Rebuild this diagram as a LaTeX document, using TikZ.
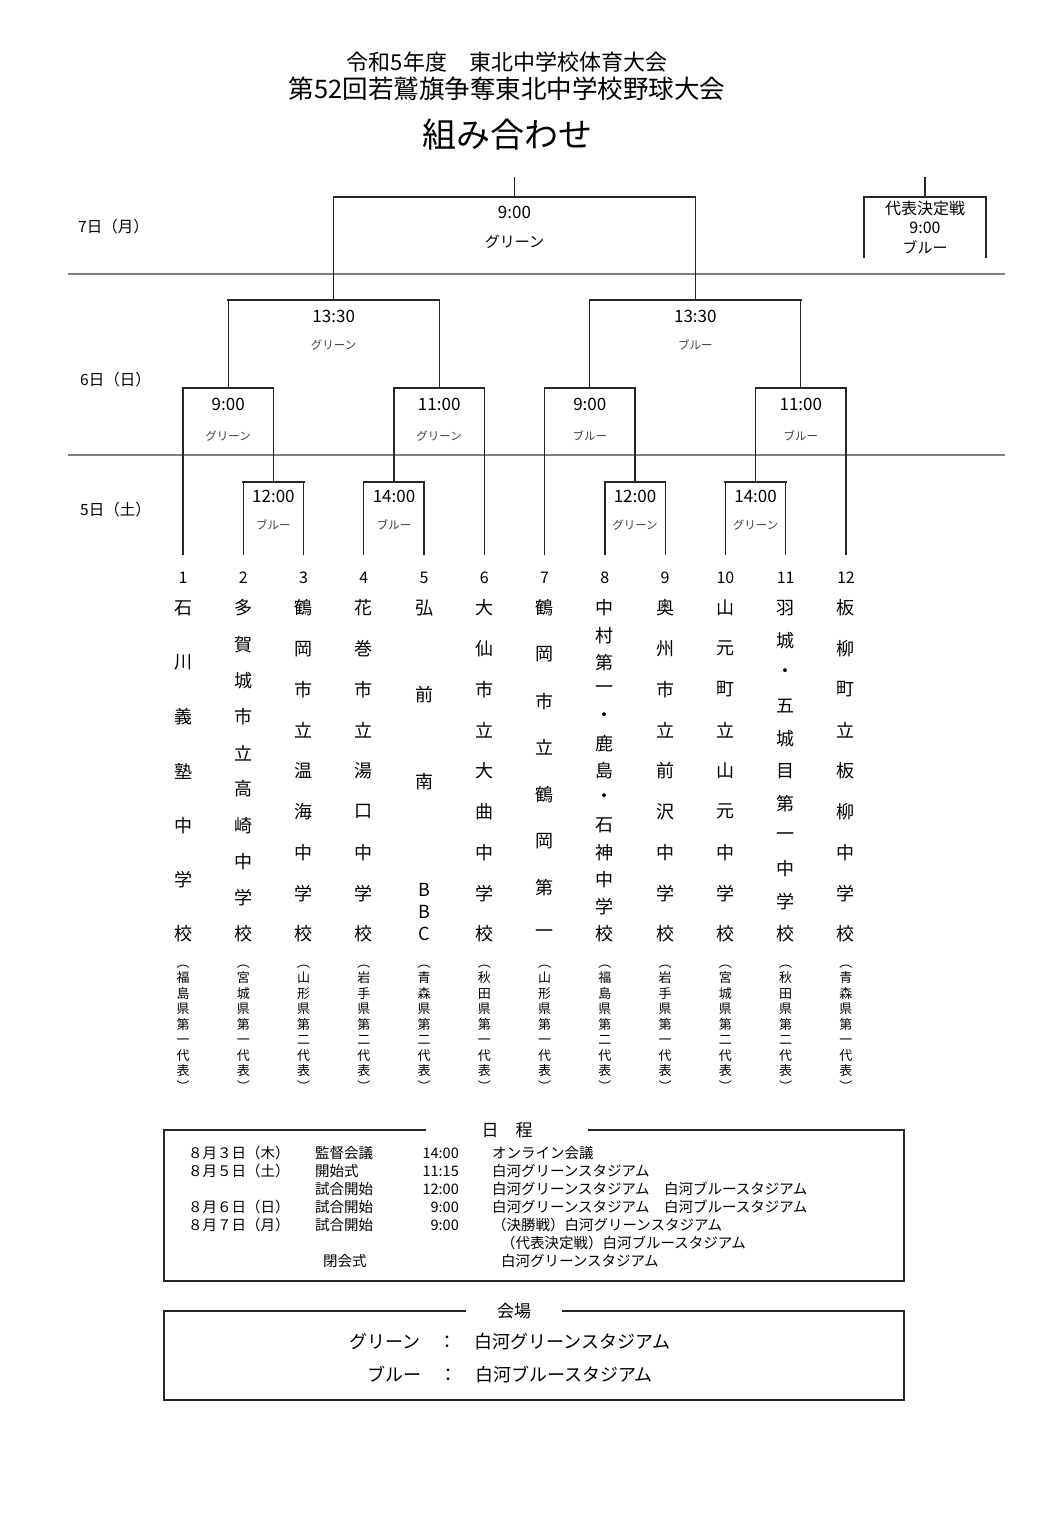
\documentclass[tikz,border=0pt]{standalone}
\usepackage{fontspec}
\setmainfont{Noto Sans CJK JP}
\usetikzlibrary{calc,positioning}
\tikzset{
  leg/.style={line width=1.3pt, draw=black!85},
  bar/.style={line width=2pt, draw=black!85, line cap=rect},
  dayline/.style={line width=1.4pt, draw=black!50},
  framebox/.style={line width=1.8pt, draw=black!85},
  timelbl/.style={inner sep=0pt, font=\fontsize{17}{17}\selectfont},
  venuelbl/.style={inner sep=0pt, text=black!75, font=\fontsize{11.5}{11.5}\selectfont},
  daylbl/.style={inner sep=0pt, anchor=west, font=\fontsize{15.5}{15.5}\selectfont},
  teamnum/.style={inner sep=0pt, font=\fontsize{16}{16}\selectfont},
  teamchar/.style={inner sep=0pt, font=\fontsize{18}{18}\selectfont},
  pref/.style={inner sep=0pt, align=center, font=\fontsize{13}{15.5}\selectfont},
  sched/.style={inner sep=0pt, anchor=west, font=\fontsize{14.5}{14.5}\selectfont},
  boxtitle/.style={inner ysep=0pt, font=\fontsize{17}{17}\selectfont},
  venueline/.style={inner sep=0pt, font=\fontsize{18}{18}\selectfont}
}
% legs from two children up to the top bar of a match
\newcommand{\bracket}[3]{%
  \draw[leg] (#1) -- (#1 |- #3) (#2) -- (#2 |- #3);
  \draw[bar] (#1 |- #3) -- (#2 |- #3);
}
% school name set down a column, spread evenly
\newcommand{\teamcol}[3]{%
  \foreach \c [count=\k from 0] in {#3}
    \node[teamchar] (n#1-\k) at ($(t#1)+(0,{53+\k*326/(#2-1)})$) {\c};
}

\begin{document}
\begin{tikzpicture}[x=1pt, y=-1pt]
\useasboundingbox (0,0) rectangle (1055,1530);

% heading
\node[font=\fontsize{22}{22}\selectfont] (head1) at (507,62) {令和5年度　東北中学校体育大会};
\node[font=\fontsize{25.5}{25.5}\selectfont] (head2) at (507,89) {第52回若鷲旗争奪東北中学校野球大会};
\node[font=\fontsize{34}{34}\selectfont] (head3) at (507,135) {組み合わせ};

% days
\coordinate (dayL1) at (68,274);  \coordinate (dayR1) at (1005,274);
\coordinate (dayL2) at (68,455);  \coordinate (dayR2) at (1005,455);
\draw[dayline] (dayL1) -- (dayR1);
\draw[dayline] (dayL2) -- (dayR2);
\node[daylbl] (d7) at (78,227) {7日（月）};
\node[daylbl] (d6) at (80,380) {6日（日）};
\node[daylbl] (d5) at (80,510) {5日（土）};

% teams
\foreach \i in {1,...,12}{
  \coordinate (t\i) at ({183+(\i-1)*60.27},555);
  \node[teamnum] (num\i) at ($(t\i)+(0,23)$) {\i};
}

% match tops
\coordinate (m23) at (273.4,482);
\coordinate (m45) at (394.0,482);
\coordinate (m89) at (635.0,482);
\coordinate (m1011) at (755.6,482);
\coordinate (q1) at (228.2,388);
\coordinate (q2) at (439.2,388);
\coordinate (q3) at (589.8,388);
\coordinate (q4) at (800.8,388);
\coordinate (s1) at (333.7,300);
\coordinate (s2) at (695.3,300);
\coordinate (fin) at (514.5,197);
\coordinate (finup) at (514.5,177);
\coordinate (repL) at (864,258);
\coordinate (repR) at (986,258);
\coordinate (rep) at (925,197);
\coordinate (repup) at (925,177);

\bracket{t2}{t3}{m23}
\bracket{t4}{t5}{m45}
\bracket{t8}{t9}{m89}
\bracket{t10}{t11}{m1011}
\bracket{t1}{m23}{q1}
\bracket{m45}{t6}{q2}
\bracket{t7}{m89}{q3}
\bracket{m1011}{t12}{q4}
\bracket{q1}{q2}{s1}
\bracket{q3}{q4}{s2}
\bracket{s1}{s2}{fin}
\draw[leg] (fin) -- (finup);
\bracket{repL}{repR}{rep}
\draw[leg] (rep) -- (repup);

% times and grounds
\foreach \m/\tm/\gr in {m23/12:00/ブルー, m45/14:00/ブルー, m89/12:00/グリーン, m1011/14:00/グリーン}{
  \node[timelbl] (\m time) at ($(\m)+(0,14)$) {\tm};
  \node[venuelbl] (\m gr) at ($(\m)+(0,43)$) {\gr};
}
\foreach \m/\tm/\gr in {q1/9:00/グリーン, q2/11:00/グリーン, q3/9:00/ブルー, q4/11:00/ブルー}{
  \node[timelbl] (\m time) at ($(\m)+(0,16)$) {\tm};
  \node[venuelbl] (\m gr) at ($(\m)+(0,48)$) {\gr};
}
\foreach \m/\gr in {s1/グリーン, s2/ブルー}{
  \node[timelbl] (\m time) at ($(\m)+(0,16)$) {13:30};
  \node[venuelbl] (\m gr) at ($(\m)+(0,45)$) {\gr};
}
\node[timelbl] (fintime) at ($(fin)+(0,15)$) {9:00};
\node[timelbl, font=\fontsize{15}{15}\selectfont] (fingr) at ($(fin)+(0,45)$) {グリーン};
\node[timelbl, font=\fontsize{16}{16}\selectfont] (repname) at ($(rep)+(0,11)$) {代表決定戦};
\node[timelbl, font=\fontsize{16}{16}\selectfont] (reptime) at ($(rep)+(0,31)$) {9:00};
\node[timelbl, font=\fontsize{15}{15}\selectfont] (repgr) at ($(rep)+(0,50)$) {ブルー};

% schools
\teamcol{1}{7}{石,川,義,塾,中,学,校}
\teamcol{2}{10}{多,賀,城,市,立,高,崎,中,学,校}
\teamcol{3}{9}{鶴,岡,市,立,温,海,中,学,校}
\teamcol{4}{9}{花,巻,市,立,湯,口,中,学,校}
\node[teamchar] (n5-0) at ($(t5)+(0,53)$) {弘};
\node[teamchar] (n5-1) at ($(t5)+(0,140)$) {前};
\node[teamchar] (n5-2) at ($(t5)+(0,227)$) {南};
\node[teamchar] (n5-3) at ($(t5)+(0,335)$) {B};
\node[teamchar] (n5-4) at ($(t5)+(0,357)$) {B};
\node[teamchar] (n5-5) at ($(t5)+(0,379)$) {C};
\teamcol{6}{9}{大,仙,市,立,大,曲,中,学,校}
\teamcol{7}{8}{鶴,岡,市,立,鶴,岡,第,一}
\teamcol{8}{13}{中,村,第,一,・,鹿,島,・,石,神,中,学,校}
\teamcol{9}{9}{奥,州,市,立,前,沢,中,学,校}
\teamcol{10}{9}{山,元,町,立,山,元,中,学,校}
\teamcol{11}{11}{羽,城,・,五,城,目,第,一,中,学,校}
\teamcol{12}{9}{板,柳,町,立,板,柳,中,学,校}

% prefectures
\foreach \i/\pa/\pb/\rk in {1/福/島/一, 2/宮/城/一, 3/山/形/二, 4/岩/手/二,
    5/青/森/二, 6/秋/田/一, 7/山/形/一, 8/福/島/二, 9/岩/手/一,
    10/宮/城/二, 11/秋/田/二, 12/青/森/一}
  \node[pref] (pref\i) at ($(t\i)+(0,473)$) {︵\\\pa\\\pb\\県\\第\\\rk\\代\\表\\︶};

% schedule
\node[boxtitle, inner xsep=55pt] (schedttl) at (507,1130) {日　程};
\draw[framebox] (schedttl.west) -- (164,1130) -- (164,1281) -- (904,1281) -- (904,1130) -- (schedttl.east);
\foreach \r/\dt/\ev/\tm/\pl in {
    0/８月３日（木）/監督会議/14:00/オンライン会議,
    1/８月５日（土）/開始式/11:15/白河グリーンスタジアム,
    2//試合開始/12:00/白河グリーンスタジアム　白河ブルースタジアム,
    3/８月６日（日）/試合開始/9:00/白河グリーンスタジアム　白河ブルースタジアム,
    4/８月７日（月）/試合開始/9:00/（決勝戦）白河グリーンスタジアム}{
  \node[sched] (dt\r) at (188,{1153+\r*18}) {\dt};
  \node[sched] (ev\r) at (315,{1153+\r*18}) {\ev};
  \node[sched, anchor=east] (tm\r) at (459,{1153+\r*18}) {\tm};
  \node[sched] (pl\r) at (492,{1153+\r*18}) {\pl};
}
\node[sched] (pl5) at (501,1243) {（代表決定戦）白河ブルースタジアム};
\node[sched] (ev6) at (323,1261) {閉会式};
\node[sched] (pl6) at (501,1261) {白河グリーンスタジアム};

% grounds
\node[boxtitle, inner xsep=31pt] (groundttl) at (514,1311) {会場};
\draw[framebox] (groundttl.west) -- (164,1311) -- (164,1400) -- (904,1400) -- (904,1311) -- (groundttl.east);
\node[venueline] (green) at (510,1342) {グリーン　：　白河グリーンスタジアム};
\node[venueline] (blue) at (510,1374) {ブルー　：　白河ブルースタジアム};
\end{tikzpicture}
\end{document}
